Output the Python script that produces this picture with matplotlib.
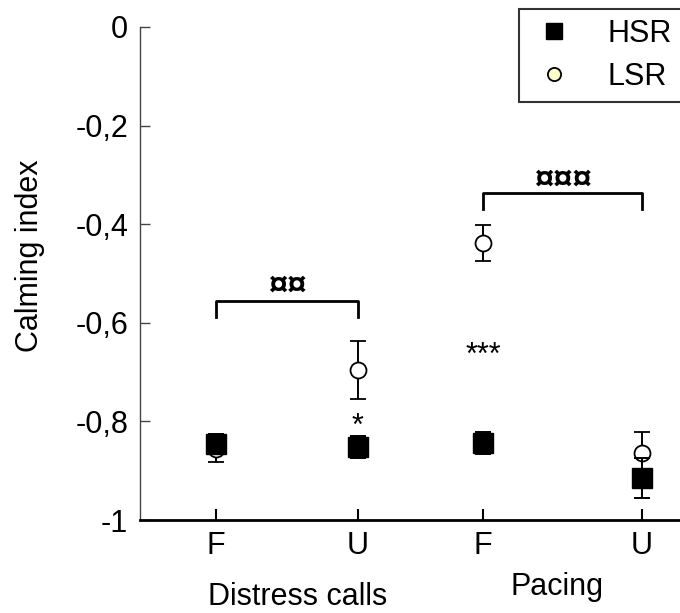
import matplotlib
matplotlib.use("Agg")
import matplotlib.pyplot as plt
from matplotlib.lines import Line2D

plt.rcParams['font.family'] = ['Liberation Sans', 'DejaVu Sans']

# data
conditions = ['F', 'U', 'F', 'U']
groups = ['Distress calls', 'Pacing']
xpos = [0.76, 2.18, 3.43, 5.02]

hsr_mean = [-0.845, -0.852, -0.844, -0.915]
hsr_err = [0.020, 0.022, 0.022, 0.040]
lsr_mean = [-0.856, -0.696, -0.438, -0.864]
lsr_err = [0.026, 0.059, 0.037, 0.042]

yticks = [0, -0.2, -0.4, -0.6, -0.8, -1]
ytick_labels = ['0', '-0,2', '-0,4', '-0,6', '-0,8', '-1']

fs = 22

fig = plt.figure(figsize=(6.8, 6.13), dpi=100)
ax = fig.add_axes([140 / 680, 1 - 520 / 613, 540 / 680, 493 / 613])

# LSR first so the HSR squares sit on top
ax.errorbar(xpos, lsr_mean, yerr=lsr_err, fmt='o', ms=11.5, mfc='white',
            mec='black', mew=1.3, ecolor='black', elinewidth=1.4,
            capsize=6, capthick=1.4, zorder=3)
ax.errorbar(xpos, hsr_mean, yerr=hsr_err, fmt='s', ms=14, mfc='black',
            mec='black', ecolor='black', elinewidth=1.4,
            capsize=6, capthick=1.4, zorder=4)

# significance brackets
ax.plot([xpos[0], xpos[0], xpos[1], xpos[1]], [-0.588, -0.556, -0.556, -0.588],
        color='black', lw=2)
ax.text((xpos[0] + xpos[1]) / 2, -0.544, '¤¤', ha='center', va='baseline',
        fontsize=25, fontweight='bold')
ax.plot([xpos[2], xpos[2], xpos[3], xpos[3]], [-0.369, -0.337, -0.337, -0.369],
        color='black', lw=2)
ax.text((xpos[2] + xpos[3]) / 2, -0.329, '¤¤¤', ha='center', va='baseline',
        fontsize=25, fontweight='bold')

ax.text(xpos[1], -0.811, '*', ha='center', va='center', fontsize=fs)
ax.text(xpos[2], -0.668, '***', ha='center', va='center', fontsize=fs)

ax.set_xlim(0, 5.4)
ax.set_ylim(-1, 0)
ax.set_xticks(xpos)
ax.set_xticklabels(conditions, fontsize=fs)
ax.set_yticks(yticks)
ax.set_yticklabels(ytick_labels, fontsize=fs)

ax.spines['top'].set_visible(False)
ax.spines['right'].set_visible(False)
ax.spines['left'].set_color('#444444')
ax.spines['left'].set_linewidth(1)
ax.spines['bottom'].set_linewidth(2)
ax.tick_params(axis='y', direction='in', length=7, width=1, color='#444444', pad=8.5)
ax.tick_params(axis='x', direction='in', length=8, width=1.5, pad=8)

ax.text(-0.204, 0.537, 'Calming index', rotation=90, ha='center', va='center',
        fontsize=fs, transform=ax.transAxes)

xt = ax.get_xaxis_transform()
ax.text(1.58, -0.172, groups[0], ha='center', va='baseline', fontsize=fs,
        transform=xt, clip_on=False)
ax.text(4.17, -0.152, groups[1], ha='center', va='baseline', fontsize=fs,
        transform=xt, clip_on=False)

handles = [
    Line2D([], [], ls='none', marker='s', ms=12, mfc='black', mec='black'),
    Line2D([], [], ls='none', marker='o', ms=9.5, mfc='#ffffcc', mec='black', mew=1.3),
]
leg = fig.legend(handles, ['HSR', 'LSR'], loc='upper left',
                 bbox_to_anchor=(519 / 680, 1 - 9 / 613 - 0.01, 250 / 680, 0.01),
                 mode='expand', fontsize=fs, frameon=True, fancybox=False,
                 edgecolor='black', borderaxespad=0, handlelength=1.65,
                 handletextpad=0.9, labelspacing=0.42, borderpad=0.33)
leg.get_frame().set_linewidth(1.5)

fig.savefig('out.png', dpi=100)
